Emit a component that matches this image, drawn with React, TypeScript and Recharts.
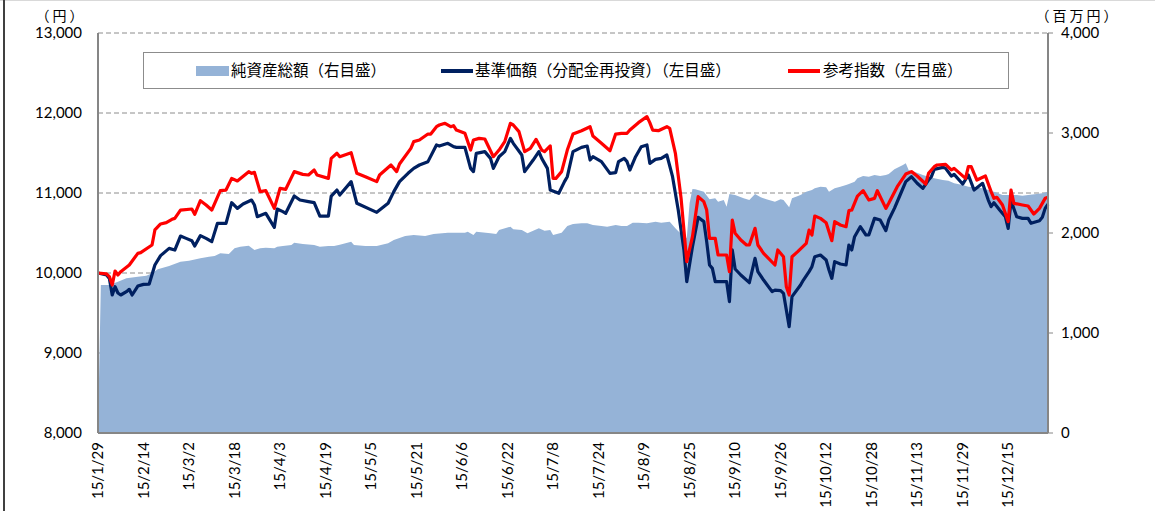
import React from 'react';
import { ComposedChart, Area, Line, XAxis, YAxis, CartesianGrid, Legend } from 'recharts';

// Day offsets counted from 2015-01-29
const navDays = [0, 1, 4, 7, 10, 14, 17, 19, 21, 25, 29, 32, 36, 39, 41, 43, 46, 48, 50, 53, 55, 57, 59, 62, 63, 65, 68, 69, 72, 76, 78, 81, 83, 85, 89, 90, 94, 98, 102, 104, 108, 111, 115, 118, 123, 129, 130, 132, 133, 138, 140, 141, 145, 146, 149, 151, 155, 157, 159, 160, 163, 165, 167, 170, 172, 174, 177, 179, 182, 184, 186, 188, 190, 193, 196, 198, 201, 203, 205, 207, 208, 209, 210, 213, 215, 217, 218, 220, 221, 222, 224, 227, 229, 231, 233, 235, 238, 240, 241, 243, 244, 247, 249, 251, 252, 254, 256, 257, 259, 261, 263, 264, 266, 267, 269, 271, 273, 275, 277, 278, 280, 283, 284, 285, 287, 290, 292, 294, 297, 299, 301, 304, 306, 308, 311, 313, 315, 318, 320, 323, 325, 327, 330, 332, 334];
const navValues = [30, 1480, 1480, 1513, 1547, 1563, 1573, 1597, 1637, 1670, 1713, 1723, 1747, 1763, 1770, 1797, 1790, 1847, 1863, 1873, 1830, 1847, 1853, 1847, 1863, 1870, 1880, 1903, 1890, 1880, 1863, 1870, 1870, 1883, 1913, 1880, 1870, 1870, 1897, 1930, 1970, 1980, 1970, 1990, 2003, 2003, 2013, 1980, 2013, 1997, 1990, 2030, 2063, 2037, 2030, 1997, 2047, 2023, 2030, 1980, 2003, 2070, 2090, 2097, 2097, 2080, 2070, 2063, 2080, 2070, 2070, 2103, 2103, 2097, 2113, 2103, 2113, 2047, 1990, 1950, 2300, 2440, 2437, 2413, 2337, 2347, 2313, 2330, 2263, 2390, 2380, 2347, 2330, 2390, 2357, 2337, 2313, 2337, 2330, 2257, 2347, 2380, 2413, 2430, 2447, 2463, 2457, 2413, 2447, 2463, 2480, 2490, 2513, 2547, 2570, 2563, 2580, 2570, 2580, 2590, 2637, 2680, 2697, 2630, 2613, 2580, 2563, 2547, 2530, 2523, 2497, 2480, 2463, 2457, 2447, 2430, 2413, 2380, 2380, 2380, 2373, 2380, 2390, 2397, 2413];

const baseDays = [0, 3, 4, 5, 6, 7, 8, 10, 11, 12, 14, 16, 18, 20, 22, 25, 27, 29, 31, 33, 34, 36, 38, 40, 42, 45, 47, 49, 51, 54, 55, 56, 59, 62, 63, 65, 66, 69, 71, 74, 76, 78, 81, 82, 84, 85, 89, 91, 98, 102, 104, 106, 109, 111, 113, 116, 119, 120, 123, 125, 126, 129, 131, 132, 133, 136, 138, 139, 141, 143, 145, 146, 149, 150, 153, 155, 156, 158, 159, 162, 164, 165, 167, 170, 172, 173, 174, 177, 180, 182, 183, 185, 186, 187, 189, 191, 193, 194, 196, 198, 200, 202, 204, 206, 207, 209, 211, 213, 214, 215, 216, 217, 221, 222, 223, 224, 226, 229, 231, 232, 234, 237, 238, 240, 241, 243, 244, 247, 248, 250, 251, 252, 254, 256, 257, 258, 259, 261, 263, 264, 265, 266, 268, 270, 271, 273, 275, 277, 278, 280, 282, 284, 286, 288, 290, 292, 293, 294, 297, 298, 300, 301, 304, 306, 308, 311, 313, 314, 315, 317, 319, 320, 321, 323, 325, 327, 328, 331, 332, 333, 334];
const baseValues = [10000, 9975, 9933, 9725, 9829, 9750, 9725, 9767, 9796, 9725, 9837, 9858, 9862, 10100, 10217, 10308, 10287, 10462, 10433, 10404, 10337, 10467, 10433, 10392, 10621, 10621, 10879, 10808, 10862, 10912, 10850, 10704, 10746, 10571, 10800, 10767, 10746, 10962, 10912, 10892, 10879, 10712, 10712, 10962, 11037, 10975, 11142, 10871, 10758, 10871, 11017, 11142, 11246, 11308, 11350, 11392, 11600, 11587, 11621, 11579, 11571, 11571, 11308, 11267, 11496, 11517, 11433, 11308, 11454, 11517, 11683, 11621, 11475, 11267, 11412, 11517, 11433, 11308, 11037, 10996, 11142, 11204, 11517, 11571, 11587, 11412, 11454, 11392, 11246, 11254, 11392, 11433, 11392, 11287, 11454, 11579, 11600, 11371, 11421, 11433, 11475, 11204, 10787, 10288, 9892, 10329, 10696, 10642, 10392, 10100, 10058, 9892, 9892, 9642, 10288, 10050, 9975, 9879, 10183, 10017, 9912, 9767, 9787, 9779, 9746, 9329, 9704, 9850, 9912, 10017, 10079, 10204, 10225, 10162, 10037, 9933, 10142, 10112, 10100, 10350, 10288, 10454, 10579, 10475, 10475, 10683, 10662, 10529, 10662, 10808, 10975, 11142, 11204, 11121, 11058, 11162, 11204, 11296, 11321, 11308, 11212, 11233, 11112, 11225, 11037, 11121, 10912, 10829, 10879, 10787, 10704, 10558, 10904, 10704, 10683, 10683, 10621, 10654, 10696, 10808, 10862];

const refDays = [0, 3, 4, 5, 6, 7, 8, 11, 14, 15, 19, 20, 22, 24, 26, 27, 29, 33, 34, 36, 38, 40, 43, 45, 47, 49, 53, 54, 55, 57, 59, 62, 64, 66, 69, 72, 74, 76, 77, 81, 82, 84, 85, 89, 91, 94, 98, 99, 103, 105, 106, 110, 111, 113, 116, 117, 119, 120, 122, 124, 125, 126, 129, 131, 132, 134, 136, 139, 141, 143, 145, 146, 148, 150, 152, 154, 156, 157, 159, 160, 161, 163, 165, 167, 170, 173, 174, 177, 180, 182, 184, 186, 187, 190, 193, 194, 195, 197, 200, 201, 203, 205, 207, 209, 211, 213, 214, 215, 217, 218, 221, 222, 223, 224, 226, 228, 229, 231, 232, 234, 238, 239, 241, 242, 243, 244, 246, 249, 250, 251, 252, 254, 256, 258, 259, 261, 263, 264, 265, 267, 269, 271, 273, 274, 277, 278, 281, 284, 286, 288, 291, 292, 294, 295, 298, 300, 301, 305, 306, 307, 309, 312, 314, 315, 316, 318, 319, 320, 321, 322, 325, 327, 329, 331, 333, 334];
const refValues = [10000, 9988, 9955, 9850, 10025, 9975, 10017, 10100, 10246, 10254, 10350, 10538, 10613, 10629, 10671, 10683, 10787, 10800, 10733, 10904, 10850, 10787, 11029, 11037, 11183, 11150, 11267, 11246, 11258, 11017, 11029, 10808, 11058, 11046, 11267, 11233, 11225, 11288, 11225, 11183, 11433, 11496, 11454, 11504, 11246, 11204, 11142, 11225, 11350, 11267, 11362, 11558, 11642, 11662, 11737, 11737, 11829, 11850, 11871, 11829, 11842, 11787, 11746, 11537, 11662, 11683, 11675, 11454, 11537, 11642, 11871, 11850, 11767, 11517, 11558, 11671, 11537, 11517, 11588, 11183, 11183, 11267, 11537, 11737, 11779, 11829, 11712, 11621, 11529, 11737, 11746, 11746, 11787, 11879, 11954, 11879, 11787, 11779, 11829, 11808, 11496, 10933, 10142, 10454, 10954, 10892, 10787, 10433, 10433, 10225, 10225, 10017, 10662, 10496, 10412, 10350, 10350, 10558, 10350, 10246, 10100, 10288, 10204, 9829, 9725, 10204, 10267, 10371, 10537, 10475, 10712, 10683, 10629, 10404, 10642, 10600, 10579, 10779, 10787, 10962, 11029, 10912, 10933, 11029, 10808, 10871, 11079, 11237, 11267, 11212, 11112, 11246, 11329, 11350, 11358, 11288, 11308, 11183, 11329, 11329, 11162, 11212, 11017, 10933, 10946, 10850, 10746, 10642, 11037, 10871, 10850, 10837, 10737, 10808, 10933, 10946];

const tickDays = [0, 16, 32, 48, 64, 80, 96, 112, 128, 144, 160, 176, 192, 208, 224, 240, 256, 272, 288, 304, 320];
const tickLabels = ['15/1/29', '15/2/14', '15/3/2', '15/3/18', '15/4/3', '15/4/19', '15/5/5', '15/5/21', '15/6/6', '15/6/22', '15/7/8', '15/7/24', '15/8/9', '15/8/25', '15/9/10', '15/9/26', '15/10/12', '15/10/28', '15/11/13', '15/11/29', '15/12/15'];
const leftTicks = [8000, 9000, 10000, 11000, 12000, 13000];
const rightTicks = [0, 1000, 2000, 3000, 4000];
const seriesNames = ['純資産総額（右目盛）', '基準価額（分配金再投資）（左目盛）', '参考指数（左目盛）'];
const leftUnit = '（円）';
const rightUnit = '（百万円）';

const NAV_COLOR = '#95B3D7';
const BASE_COLOR = '#002060';
const REF_COLOR = '#FF0000';
const AXIS_COLOR = '#868686';
const NUM_FONT = 'Lato, "Liberation Sans", sans-serif';
const CJK_FONT = '"Noto Sans CJK JP", sans-serif';

function buildData() {
  const map = new Map<number, any>();
  const put = (days: number[], vals: number[], key: string) => {
    days.forEach((d, i) => {
      const row = map.get(d) ?? { d };
      row[key] = vals[i];
      map.set(d, row);
    });
  };
  put(navDays, navValues, 'nav');
  put(baseDays, baseValues, 'base');
  put(refDays, refValues, 'ref');
  return Array.from(map.values()).sort((a, b) => a.d - b.d);
}

const data = buildData();

const XTick = (props: any) => {
  const { x, y, payload } = props;
  const idx = tickDays.indexOf(payload.value);
  return (
    <text
      x={x}
      y={y}
      transform={`rotate(-90 ${x} ${y})`}
      textAnchor="end"
      dy="0.35em"
      fontSize={15}
      fontFamily={NUM_FONT}
      fill="#000"
    >
      {idx >= 0 ? tickLabels[idx] : ''}
    </text>
  );
};

const legendText: any = {
  position: 'absolute',
  top: 17,
  transform: 'translateY(-50%)',
  lineHeight: 1,
  whiteSpace: 'nowrap',
};

const renderLegend = () => (
  <div
    style={{
      position: 'relative',
      width: 866,
      height: 37,
      border: '1px solid #8c8c8c',
      boxSizing: 'border-box',
      background: '#fff',
      fontFamily: CJK_FONT,
      fontSize: 15.5,
      color: '#000',
    }}
  >
    <div style={{ position: 'absolute', left: 52, top: 13, width: 33, height: 10, background: NAV_COLOR }} />
    <span style={{ ...legendText, left: 87 }}>{seriesNames[0]}</span>
    <div style={{ position: 'absolute', left: 297, top: 16, width: 32, height: 4, background: BASE_COLOR }} />
    <span style={{ ...legendText, left: 331 }}>{seriesNames[1]}</span>
    <div style={{ position: 'absolute', left: 644, top: 16, width: 32, height: 4, background: REF_COLOR }} />
    <span style={{ ...legendText, left: 679 }}>{seriesNames[2]}</span>
  </div>
);

const unitStyle: any = {
  position: 'absolute',
  top: 9,
  height: 12,
  lineHeight: '12px',
  fontSize: 14,
  letterSpacing: 3,
  fontFamily: CJK_FONT,
  color: '#000',
  whiteSpace: 'nowrap',
  textAlign: 'center',
};

export default function App() {
  return (
    <div style={{ position: 'absolute', left: 0, top: 0, width: 1155, height: 511, background: '#fff', overflow: 'hidden' }}>
      <div style={{ position: 'absolute', left: 0, top: 0, width: 1155, height: 1, background: '#d9d9d9' }} />
      <div style={{ position: 'absolute', left: 3, top: 0, width: 2, height: 511, background: '#404040' }} />
      <ComposedChart
        width={1155}
        height={511}
        data={data}
        margin={{ top: 33, right: 0, bottom: 0, left: 0 }}
        style={{ position: 'absolute', left: 0, top: 0 }}
      >
        <CartesianGrid yAxisId="left" vertical={false} stroke="#8c8c8c" strokeDasharray="5 3" strokeWidth={1} />
        <XAxis
          dataKey="d"
          type="number"
          domain={[0, 334]}
          ticks={tickDays}
          interval={0}
          height={78}
          axisLine={{ stroke: AXIS_COLOR, strokeWidth: 2 }}
          tickLine={false}
          tickSize={0}
          tickMargin={9}
          tick={<XTick />}
        />
        <YAxis
          yAxisId="left"
          orientation="left"
          width={98}
          domain={[8000, 13000]}
          ticks={leftTicks}
          interval={0}
          allowDataOverflow
          axisLine={{ stroke: AXIS_COLOR, strokeWidth: 2 }}
          tickLine={false}
          tickSize={0}
          tickMargin={16}
          tickFormatter={(v: number) => v.toLocaleString('en-US')}
          tick={{ fontSize: 15, fontFamily: NUM_FONT, fill: '#000' }}
        />
        <YAxis
          yAxisId="right"
          orientation="right"
          width={107}
          domain={[0, 4000]}
          ticks={rightTicks}
          interval={0}
          allowDataOverflow
          axisLine={{ stroke: AXIS_COLOR, strokeWidth: 2 }}
          tickLine={{ stroke: AXIS_COLOR, strokeWidth: 1 }}
          tickSize={5}
          tickMargin={8}
          tickFormatter={(v: number) => v.toLocaleString('en-US')}
          tick={{ fontSize: 15, fontFamily: NUM_FONT, fill: '#000' }}
        />
        <Legend
          layout="horizontal"
          verticalAlign="middle"
          align="center"
          content={renderLegend}
          wrapperStyle={{ left: 143, top: 52, width: 866, height: 37 }}
        />
        <Area
          yAxisId="right"
          type="linear"
          dataKey="nav"
          name={seriesNames[0]}
          fill={NAV_COLOR}
          fillOpacity={1}
          stroke="none"
          connectNulls
          dot={false}
          activeDot={false}
          isAnimationActive={false}
        />
        <Line
          yAxisId="left"
          type="linear"
          dataKey="base"
          name={seriesNames[1]}
          stroke={BASE_COLOR}
          strokeWidth={3.2}
          strokeLinejoin="round"
          connectNulls
          dot={false}
          activeDot={false}
          isAnimationActive={false}
        />
        <Line
          yAxisId="left"
          type="linear"
          dataKey="ref"
          name={seriesNames[2]}
          stroke={REF_COLOR}
          strokeWidth={3.2}
          strokeLinejoin="round"
          connectNulls
          dot={false}
          activeDot={false}
          isAnimationActive={false}
        />
      </ComposedChart>
      <div style={{ ...unitStyle, left: 30, width: 62 }}>{leftUnit}</div>
      <div style={{ ...unitStyle, left: 1030, width: 96 }}>{rightUnit}</div>
    </div>
  );
}
